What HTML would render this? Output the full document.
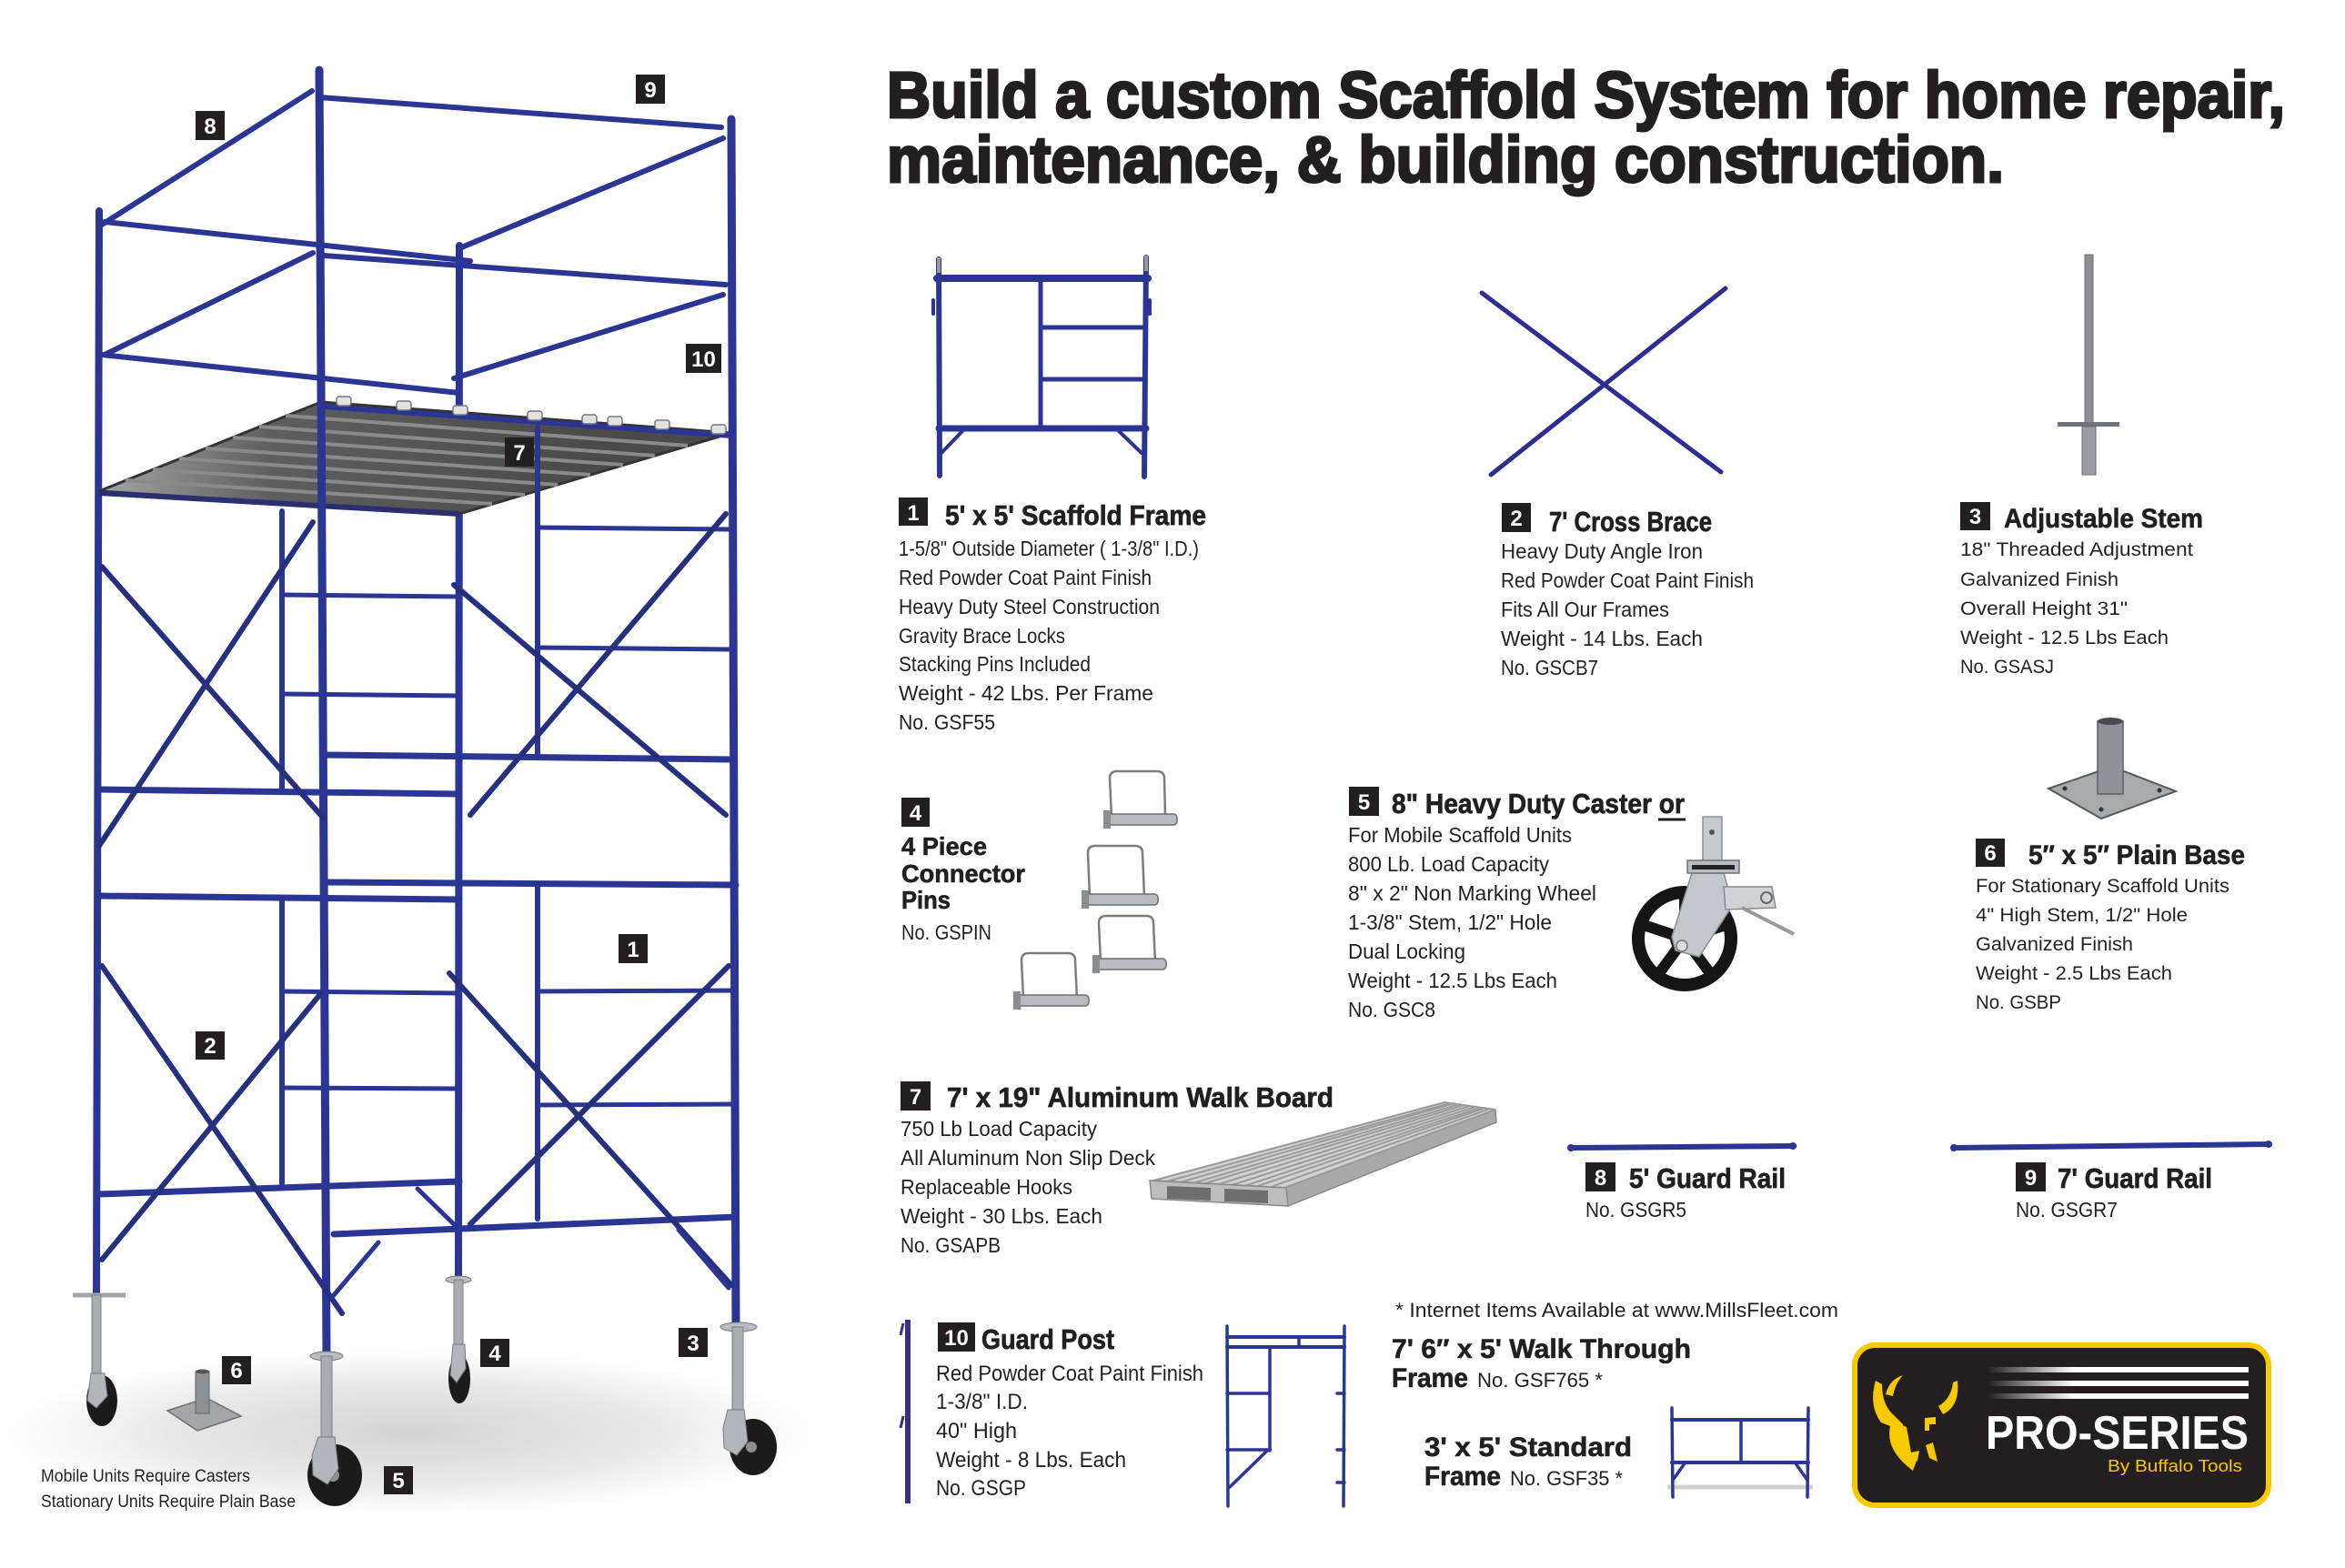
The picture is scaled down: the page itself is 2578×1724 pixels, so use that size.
<!DOCTYPE html>
<html><head><meta charset="utf-8">
<style>
html,body{margin:0;padding:0;background:#fff;}
svg{display:block;}
text{font-family:"Liberation Sans",sans-serif;fill:#231f20;}
.h{font-weight:bold;font-size:31px;stroke:#231f20;stroke-width:0.7px;}
.b{font-size:23px;}
.w{font-size:21px;}
.n{font-weight:bold;font-size:24px;fill:#fff;}
</style></head><body>
<svg width="2578" height="1724" viewBox="0 0 2578 1724" xmlns="http://www.w3.org/2000/svg">
<defs>
<radialGradient id="shd" cx="0.5" cy="0.5" r="0.5">
<stop offset="0" stop-color="#d4d4d4"/><stop offset="0.6" stop-color="#e8e8e8"/><stop offset="1" stop-color="#ffffff"/>
</radialGradient>
<linearGradient id="deckg" x1="109" y1="500" x2="650" y2="520" gradientUnits="userSpaceOnUse">
<stop offset="0" stop-color="#a5a5a5"/><stop offset="0.35" stop-color="#5e5e5e"/><stop offset="1" stop-color="#4a4a4a"/>
</linearGradient>
<linearGradient id="sg" x1="2185" y1="0" x2="2280" y2="0" gradientUnits="userSpaceOnUse">
<stop offset="0" stop-color="#231f20"/><stop offset="1" stop-color="#ffffff"/>
</linearGradient>
</defs>
<rect width="2578" height="1724" fill="#fff"/>

<!-- TITLE -->
<text x="975" y="129" font-size="71" font-weight="bold" textLength="1537" lengthAdjust="spacingAndGlyphs" stroke="#231f20" stroke-width="3">Build a custom Scaffold System for home repair,</text>
<text x="975" y="200" font-size="71" font-weight="bold" textLength="1228" lengthAdjust="spacingAndGlyphs" stroke="#231f20" stroke-width="3">maintenance, &amp; building construction.</text>

<!-- ============ TOWER ============ -->
<ellipse cx="450" cy="1575" rx="440" ry="90" fill="url(#shd)"/>

<g stroke="#2b3593" stroke-linecap="round" fill="none">
  <line x1="505" y1="270" x2="504" y2="1407" stroke-width="8"/>
  <line x1="109" y1="232" x2="106" y2="1424" stroke-width="8"/>
  <line x1="351" y1="107" x2="793" y2="140" stroke-width="6"/>
  <line x1="112" y1="247" x2="343" y2="100" stroke-width="6"/>
  <line x1="115" y1="244" x2="517" y2="287" stroke-width="6"/>
  <line x1="356" y1="281" x2="798" y2="313" stroke-width="6"/>
  <line x1="795" y1="152" x2="505" y2="273" stroke-width="6"/>
  <line x1="344" y1="278" x2="115" y2="390" stroke-width="6"/>
  <line x1="112" y1="390" x2="505" y2="432" stroke-width="6"/>
  <line x1="795" y1="324" x2="499" y2="416" stroke-width="6"/>
</g>

<!-- deck -->
<polygon points="109,540 353,442 804,476 505,565" fill="url(#deckg)" stroke="#333" stroke-width="3"/>
<g stroke="#8a8a8a" stroke-width="4">
  <line x1="138" y1="528" x2="541" y2="554"/>
  <line x1="168" y1="516" x2="577" y2="544"/>
  <line x1="197" y1="504" x2="613" y2="533"/>
  <line x1="226" y1="493" x2="649" y2="522"/>
  <line x1="256" y1="481" x2="685" y2="511"/>
  <line x1="285" y1="469" x2="720" y2="501"/>
  <line x1="314" y1="457" x2="756" y2="490"/>
</g>
<line x1="356" y1="447" x2="804" y2="479" stroke="#2b3593" stroke-width="6"/>
<g fill="#e2e2e2" stroke="#777" stroke-width="1.5">
  <rect x="370" y="436" width="16" height="10" rx="3"/>
  <rect x="436" y="441" width="16" height="10" rx="3"/>
  <rect x="498" y="446" width="16" height="10" rx="3"/>
  <rect x="580" y="452" width="16" height="10" rx="3"/>
  <rect x="640" y="456" width="16" height="10" rx="3"/>
  <rect x="668" y="458" width="16" height="10" rx="3"/>
  <rect x="720" y="462" width="16" height="10" rx="3"/>
  <rect x="782" y="467" width="16" height="10" rx="3"/>
</g>
<line x1="109" y1="542" x2="505" y2="565" stroke="#2a2f70" stroke-width="6"/>

<g stroke="#2b3593" stroke-linecap="round" fill="none">
  <line x1="351" y1="77" x2="359" y2="1491" stroke-width="9"/>
  <line x1="804" y1="131" x2="809" y2="1458" stroke-width="9"/>
  <line x1="310" y1="562" x2="310" y2="870" stroke-width="6"/>
  <line x1="310" y1="987" x2="310" y2="1301" stroke-width="6"/>
  <g stroke-width="5">
    <line x1="310" y1="654" x2="505" y2="656"/>
    <line x1="310" y1="763" x2="505" y2="765"/>
    <line x1="310" y1="1090" x2="505" y2="1092"/>
    <line x1="310" y1="1196" x2="505" y2="1197"/>
  </g>
  <line x1="109" y1="868" x2="505" y2="873" stroke-width="7"/>
  <line x1="109" y1="985" x2="505" y2="989" stroke-width="7"/>
  <line x1="109" y1="1313" x2="505" y2="1299" stroke-width="7"/>
  <line x1="591" y1="470" x2="591" y2="830" stroke-width="6"/>
  <line x1="591" y1="973" x2="591" y2="1340" stroke-width="6"/>
  <g stroke-width="5">
    <line x1="591" y1="580" x2="804" y2="582"/>
    <line x1="591" y1="712" x2="804" y2="714"/>
    <line x1="591" y1="1090" x2="809" y2="1089"/>
    <line x1="591" y1="1215" x2="809" y2="1214"/>
  </g>
  <line x1="359" y1="830" x2="804" y2="835" stroke-width="7"/>
  <line x1="359" y1="970" x2="809" y2="973" stroke-width="7"/>
  <line x1="367" y1="1357" x2="809" y2="1338" stroke-width="7"/>
  <g stroke-width="6" stroke="#26307f">
    <line x1="112" y1="623" x2="356" y2="900"/>
    <line x1="344" y1="574" x2="109" y2="930"/>
    <line x1="499" y1="643" x2="798" y2="896"/>
    <line x1="798" y1="565" x2="517" y2="896"/>
    <line x1="112" y1="1062" x2="376" y2="1444"/>
    <line x1="353" y1="1092" x2="112" y2="1385"/>
    <line x1="494" y1="1070" x2="804" y2="1413"/>
    <line x1="801" y1="1062" x2="517" y2="1346"/>
  </g>
  <g stroke-width="5">
    <line x1="367" y1="1424" x2="416" y2="1366"/>
    <line x1="746" y1="1352" x2="801" y2="1416"/>
    <line x1="459" y1="1307" x2="499" y2="1346"/>
  </g>
</g>

<!-- tower casters -->
<g>
  <line x1="80" y1="1424" x2="138" y2="1424" stroke="#a3a6aa" stroke-width="5"/>
  <rect x="101" y="1424" width="10" height="90" fill="#a9acb0" stroke="#7d8084" stroke-width="1"/>
  <ellipse cx="112" cy="1540" rx="17" ry="28" fill="#1b1b1b"/>
  <polygon points="100,1510 115,1510 118,1535 106,1548 96,1540" fill="#b3b6ba" stroke="#75787c" stroke-width="1"/>
  <ellipse cx="504" cy="1407" rx="14" ry="4" fill="#b9bcc0" stroke="#777" stroke-width="1"/>
  <rect x="499" y="1407" width="10" height="75" fill="#a9acb0" stroke="#7d8084" stroke-width="1"/>
  <ellipse cx="505" cy="1516" rx="12" ry="27" fill="#1b1b1b"/>
  <polygon points="498,1478 511,1478 512,1505 502,1520 495,1512" fill="#b3b6ba" stroke="#75787c" stroke-width="1"/>
  <ellipse cx="359" cy="1491" rx="18" ry="5" fill="#b9bcc0" stroke="#777" stroke-width="1"/>
  <rect x="353" y="1491" width="12" height="95" fill="#a9acb0" stroke="#7d8084" stroke-width="1"/>
  <ellipse cx="368" cy="1622" rx="30" ry="34" fill="#1b1b1b"/>
  <circle cx="366" cy="1622" r="7" fill="#8d8f92"/>
  <polygon points="350,1580 368,1580 372,1615 360,1632 344,1622 343,1600" fill="#b3b6ba" stroke="#75787c" stroke-width="1"/>
  <ellipse cx="812" cy="1459" rx="20" ry="5" fill="#b9bcc0" stroke="#777" stroke-width="1"/>
  <rect x="805" y="1459" width="12" height="100" fill="#a9acb0" stroke="#7d8084" stroke-width="1"/>
  <ellipse cx="828" cy="1591" rx="26" ry="31" fill="#1b1b1b"/>
  <circle cx="826" cy="1591" r="6" fill="#8d8f92"/>
  <polygon points="800,1550 818,1550 822,1585 810,1600 796,1592 795,1570" fill="#b3b6ba" stroke="#75787c" stroke-width="1"/>
  <polygon points="184,1551 227,1537 265,1557 217,1573" fill="#a4a7aa" stroke="#6d6f72" stroke-width="1.5"/>
  <rect x="215" y="1508" width="15" height="46" fill="#8d9094" stroke="#5f6266" stroke-width="1"/>
  <ellipse cx="222.5" cy="1508" rx="7.5" ry="2.5" fill="#555"/>
</g>

<!-- tower badges -->
<g fill="#231f20">
  <rect x="215" y="122" width="32" height="32"/>
  <rect x="699" y="82" width="32" height="32"/>
  <rect x="754" y="378" width="39" height="32"/>
  <rect x="555" y="481" width="32" height="32"/>
  <rect x="680" y="1027" width="32" height="32"/>
  <rect x="215" y="1134" width="32" height="31"/>
  <rect x="244" y="1491" width="32" height="31"/>
  <rect x="528" y="1472" width="32" height="31"/>
  <rect x="746" y="1460" width="32" height="32"/>
  <rect x="422" y="1612" width="32" height="31"/>
</g>
<g>
  <text class="n" x="231" y="147" text-anchor="middle">8</text>
  <text class="n" x="715" y="107" text-anchor="middle">9</text>
  <text class="n" x="773.5" y="403" text-anchor="middle">10</text>
  <text class="n" x="571" y="506" text-anchor="middle">7</text>
  <text class="n" x="696" y="1052" text-anchor="middle">1</text>
  <text class="n" x="231" y="1158" text-anchor="middle">2</text>
  <text class="n" x="260" y="1515" text-anchor="middle">6</text>
  <text class="n" x="544" y="1496" text-anchor="middle">4</text>
  <text class="n" x="762" y="1485" text-anchor="middle">3</text>
  <text class="n" x="438" y="1636" text-anchor="middle">5</text>
</g>
<text x="45" y="1629" font-size="19" textLength="230" lengthAdjust="spacingAndGlyphs">Mobile Units Require Casters</text>
<text x="45" y="1657" font-size="19" textLength="280" lengthAdjust="spacingAndGlyphs">Stationary Units Require Plain Base</text>

<!-- ============ SECTION 1: frame ============ -->
<g stroke="#2b3593" stroke-linecap="round" fill="none">
  <line x1="1032" y1="285" x2="1033" y2="523" stroke-width="6"/>
  <line x1="1260" y1="283" x2="1258" y2="524" stroke-width="6"/>
  <line x1="1030" y1="306" x2="1262" y2="306" stroke-width="8"/>
  <line x1="1144" y1="306" x2="1144" y2="470" stroke-width="5"/>
  <line x1="1144" y1="360" x2="1258" y2="360" stroke-width="5"/>
  <line x1="1144" y1="417" x2="1258" y2="417" stroke-width="5"/>
  <line x1="1032" y1="471" x2="1260" y2="471" stroke-width="7"/>
  <line x1="1058" y1="474" x2="1035" y2="498" stroke-width="4"/>
  <line x1="1230" y1="474" x2="1255" y2="498" stroke-width="4"/>
  <line x1="1026" y1="330" x2="1026" y2="345" stroke-width="4"/>
  <line x1="1264" y1="330" x2="1264" y2="345" stroke-width="4"/>
</g>
<line x1="1032" y1="283" x2="1032" y2="300" stroke="#999" stroke-width="4"/>
<line x1="1260" y1="281" x2="1260" y2="298" stroke="#999" stroke-width="4"/>
<rect x="988" y="547" width="32" height="31" fill="#231f20"/>
<text class="n" x="1004" y="572" text-anchor="middle">1</text>
<text class="h" x="1039" y="577" textLength="287" lengthAdjust="spacingAndGlyphs">5' x 5' Scaffold Frame</text>
<text class="b" x="988" y="611" textLength="330" lengthAdjust="spacingAndGlyphs">1-5/8" Outside Diameter ( 1-3/8" I.D.)</text>
<text class="b" x="988" y="643" textLength="278" lengthAdjust="spacingAndGlyphs">Red Powder Coat Paint Finish</text>
<text class="b" x="988" y="675" textLength="287" lengthAdjust="spacingAndGlyphs">Heavy Duty Steel Construction</text>
<text class="b" x="988" y="707" textLength="183" lengthAdjust="spacingAndGlyphs">Gravity Brace Locks</text>
<text class="b" x="988" y="738" textLength="211" lengthAdjust="spacingAndGlyphs">Stacking Pins Included</text>
<text class="b" x="988" y="770" textLength="280" lengthAdjust="spacingAndGlyphs">Weight  - 42 Lbs. Per  Frame</text>
<text class="b" x="988" y="802" textLength="106" lengthAdjust="spacingAndGlyphs">No. GSF55</text>

<!-- ============ SECTION 2: cross brace ============ -->
<g stroke="#2e2e90" stroke-width="5" stroke-linecap="round">
  <line x1="1629" y1="322" x2="1892" y2="519"/>
  <line x1="1639" y1="522" x2="1897" y2="317"/>
</g>
<rect x="1651" y="553" width="32" height="32" fill="#231f20"/>
<text class="n" x="1667" y="578" text-anchor="middle">2</text>
<text class="h" x="1703" y="584" textLength="179" lengthAdjust="spacingAndGlyphs">7' Cross Brace</text>
<text class="b" x="1650" y="614" textLength="222" lengthAdjust="spacingAndGlyphs">Heavy Duty Angle Iron</text>
<text class="b" x="1650" y="646" textLength="278" lengthAdjust="spacingAndGlyphs">Red Powder Coat Paint Finish</text>
<text class="b" x="1650" y="678" textLength="185" lengthAdjust="spacingAndGlyphs">Fits All Our Frames</text>
<text class="b" x="1650" y="710" textLength="222" lengthAdjust="spacingAndGlyphs">Weight  - 14 Lbs. Each</text>
<text class="b" x="1650" y="742" textLength="107" lengthAdjust="spacingAndGlyphs">No. GSCB7</text>

<!-- ============ SECTION 3: stem ============ -->
<rect x="2292" y="280" width="9" height="188" fill="#8c8f93" stroke="#6a6d71" stroke-width="1"/>
<rect x="2262" y="464" width="68" height="5" fill="#6f7276"/>
<rect x="2289" y="469" width="15" height="53" fill="#9a9da1" stroke="#6a6d71" stroke-width="1"/>
<rect x="2155" y="552" width="33" height="31" fill="#231f20"/>
<text class="n" x="2171.5" y="576" text-anchor="middle">3</text>
<text x="2203" y="580" font-size="30" font-weight="bold" stroke="#231f20" stroke-width="0.6" textLength="219" lengthAdjust="spacingAndGlyphs">Adjustable Stem</text>
<text class="w" x="2155" y="611" textLength="256" lengthAdjust="spacingAndGlyphs">18" Threaded Adjustment</text>
<text class="w" x="2155" y="644" textLength="174" lengthAdjust="spacingAndGlyphs">Galvanized Finish</text>
<text class="w" x="2155" y="676" textLength="184" lengthAdjust="spacingAndGlyphs">Overall Height 31"</text>
<text class="w" x="2155" y="708" textLength="229" lengthAdjust="spacingAndGlyphs">Weight - 12.5 Lbs Each</text>
<text class="w" x="2155" y="740" textLength="103" lengthAdjust="spacingAndGlyphs">No. GSASJ</text>

<!-- ============ SECTION 4: pins ============ -->
<g fill="none" stroke="#7a7d80" stroke-width="2.5">
  <path d="M1222,899 L1220,856 Q1220,848 1228,848 L1272,848 Q1280,848 1280,856 L1281,899"/>
  <path d="M1198,987 L1196,938 Q1196,930 1204,930 L1248,930 Q1256,930 1256,938 L1258,987"/>
  <path d="M1210,1058 L1208,1015 Q1208,1007 1216,1007 L1260,1007 Q1268,1007 1268,1015 L1270,1058"/>
  <path d="M1125,1098 L1123,1056 Q1123,1048 1131,1048 L1174,1048 Q1182,1048 1182,1056 L1184,1098"/>
</g>
<g fill="#b8bbbf" stroke="#6b6e72" stroke-width="1.5">
  <rect x="1215" y="895" width="79" height="12" rx="4"/>
  <rect x="1191" y="983" width="82" height="12" rx="4"/>
  <rect x="1203" y="1054" width="79" height="12" rx="4"/>
  <rect x="1116" y="1094" width="81" height="12" rx="4"/>
</g>
<g fill="#8a8d91">
  <rect x="1213" y="891" width="8" height="20"/>
  <rect x="1189" y="979" width="8" height="20"/>
  <rect x="1201" y="1050" width="8" height="20"/>
  <rect x="1114" y="1090" width="8" height="20"/>
</g>
<rect x="991" y="877" width="31" height="32" fill="#231f20"/>
<text class="n" x="1006.5" y="902" text-anchor="middle">4</text>
<text x="991" y="940" font-size="28" font-weight="bold" stroke="#231f20" stroke-width="0.6" textLength="94" lengthAdjust="spacingAndGlyphs">4 Piece</text>
<text x="991" y="970" font-size="28" font-weight="bold" stroke="#231f20" stroke-width="0.6" textLength="136" lengthAdjust="spacingAndGlyphs">Connector</text>
<text x="991" y="999" font-size="28" font-weight="bold" stroke="#231f20" stroke-width="0.6" textLength="54" lengthAdjust="spacingAndGlyphs">Pins</text>
<text class="b" x="991" y="1033" textLength="99" lengthAdjust="spacingAndGlyphs">No. GSPIN</text>

<!-- ============ SECTION 5: caster ============ -->
<rect x="1483" y="865" width="33" height="32" fill="#231f20"/>
<text class="n" x="1499.5" y="890" text-anchor="middle">5</text>
<text class="h" x="1530" y="894" textLength="322" lengthAdjust="spacingAndGlyphs">8" Heavy Duty Caster or</text>
<line x1="1823" y1="901" x2="1853" y2="901" stroke="#231f20" stroke-width="3"/>
<text class="b" x="1482" y="926" textLength="246" lengthAdjust="spacingAndGlyphs">For Mobile Scaffold Units</text>
<text class="b" x="1482" y="958" textLength="221" lengthAdjust="spacingAndGlyphs">800 Lb. Load Capacity</text>
<text class="b" x="1482" y="990" textLength="273" lengthAdjust="spacingAndGlyphs">8" x 2" Non Marking Wheel</text>
<text class="b" x="1482" y="1022" textLength="224" lengthAdjust="spacingAndGlyphs">1-3/8" Stem, 1/2" Hole</text>
<text class="b" x="1482" y="1054" textLength="129" lengthAdjust="spacingAndGlyphs">Dual Locking</text>
<text class="b" x="1482" y="1086" textLength="230" lengthAdjust="spacingAndGlyphs">Weight - 12.5 Lbs Each</text>
<text class="b" x="1482" y="1118" textLength="96" lengthAdjust="spacingAndGlyphs">No. GSC8</text>
<g>
  <rect x="1872" y="898" width="21" height="52" fill="#c7cacd" stroke="#8d9196" stroke-width="1.5"/>
  <circle cx="1882" cy="915" r="3" fill="#555"/>
  <circle cx="1852" cy="1032" r="51" fill="none" stroke="#151515" stroke-width="14"/>
  <g stroke="#151515" stroke-width="12">
    <line x1="1852" y1="1032" x2="1852" y2="985"/>
    <line x1="1852" y1="1032" x2="1897" y2="1017"/>
    <line x1="1852" y1="1032" x2="1880" y2="1070"/>
    <line x1="1852" y1="1032" x2="1824" y2="1070"/>
    <line x1="1852" y1="1032" x2="1807" y2="1017"/>
  </g>
  <circle cx="1852" cy="1032" r="16" fill="#151515"/>
  <polygon points="1860,960 1895,960 1905,995 1868,1052 1842,1045 1838,1030" fill="#c4c7cb" stroke="#8a8e93" stroke-width="1.5"/>
  <circle cx="1849" cy="1040" r="6" fill="#ddd" stroke="#777" stroke-width="1.5"/>
  <rect x="1855" y="946" width="57" height="14" fill="#b9bcc0" stroke="#6f7377" stroke-width="1.5"/>
  <rect x="1860" y="951" width="47" height="5" fill="#222"/>
  <polygon points="1895,975 1948,975 1952,998 1897,1000" fill="#d0d3d6" stroke="#888" stroke-width="1.5"/>
  <circle cx="1942" cy="987" r="6" fill="none" stroke="#666" stroke-width="2"/>
  <line x1="1915" y1="998" x2="1972" y2="1027" stroke="#999" stroke-width="4"/>
</g>

<!-- ============ SECTION 6: plain base ============ -->
<polygon points="2252,867 2322,843 2392,870 2310,900" fill="#a8abae" stroke="#55585b" stroke-width="2"/>
<g fill="#333"><circle cx="2270" cy="867" r="2.5"/><circle cx="2322" cy="851" r="2.5"/><circle cx="2374" cy="869" r="2.5"/><circle cx="2310" cy="890" r="2.5"/></g>
<rect x="2306" y="793" width="28" height="80" fill="#8f9296" stroke="#5d6064" stroke-width="1.5"/>
<ellipse cx="2320" cy="793" rx="14" ry="4" fill="#4a4d50"/>
<rect x="2172" y="922" width="32" height="31" fill="#231f20"/>
<text class="n" x="2188" y="946" text-anchor="middle">6</text>
<text x="2230" y="950" font-size="30" font-weight="bold" stroke="#231f20" stroke-width="0.6" textLength="238" lengthAdjust="spacingAndGlyphs">5″ x 5″ Plain Base</text>
<text class="w" x="2172" y="981" textLength="279" lengthAdjust="spacingAndGlyphs">For Stationary Scaffold Units</text>
<text class="w" x="2172" y="1013" textLength="233" lengthAdjust="spacingAndGlyphs">4" High Stem, 1/2" Hole</text>
<text class="w" x="2172" y="1045" textLength="173" lengthAdjust="spacingAndGlyphs">Galvanized Finish</text>
<text class="w" x="2172" y="1077" textLength="216" lengthAdjust="spacingAndGlyphs">Weight - 2.5 Lbs Each</text>
<text class="w" x="2172" y="1109" textLength="94" lengthAdjust="spacingAndGlyphs">No. GSBP</text>

<!-- ============ SECTION 7: walk board ============ -->
<rect x="990" y="1189" width="33" height="32" fill="#231f20"/>
<text class="n" x="1006.5" y="1214" text-anchor="middle">7</text>
<text class="h" x="1041" y="1217" textLength="425" lengthAdjust="spacingAndGlyphs">7' x 19" Aluminum Walk Board</text>
<text class="b" x="990" y="1249" textLength="216" lengthAdjust="spacingAndGlyphs">750 Lb Load Capacity</text>
<text class="b" x="990" y="1281" textLength="280" lengthAdjust="spacingAndGlyphs">All Aluminum Non Slip Deck</text>
<text class="b" x="990" y="1313" textLength="189" lengthAdjust="spacingAndGlyphs">Replaceable Hooks</text>
<text class="b" x="990" y="1345" textLength="222" lengthAdjust="spacingAndGlyphs">Weight  - 30 Lbs. Each</text>
<text class="b" x="990" y="1377" textLength="110" lengthAdjust="spacingAndGlyphs">No. GSAPB</text>
<polygon points="1412,1306 1644,1220 1645,1234 1416,1326" fill="#a9a9a9" stroke="#888" stroke-width="1.5"/>
<polygon points="1268,1298 1412,1306 1644,1220 1588,1212" fill="#d2d2d2" stroke="#9a9a9a" stroke-width="2"/>
<g stroke="#9b9b9b" stroke-width="2">
  <line x1="1283" y1="1299" x2="1594" y2="1213"/>
  <line x1="1297" y1="1300" x2="1599" y2="1213"/>
  <line x1="1311" y1="1301" x2="1605" y2="1214"/>
  <line x1="1325" y1="1301" x2="1610" y2="1215"/>
  <line x1="1340" y1="1302" x2="1616" y2="1216"/>
  <line x1="1354" y1="1303" x2="1622" y2="1217"/>
  <line x1="1368" y1="1304" x2="1627" y2="1218"/>
  <line x1="1383" y1="1304" x2="1633" y2="1218"/>
  <line x1="1397" y1="1305" x2="1638" y2="1219"/>
</g>
<polygon points="1264,1298 1414,1306 1416,1326 1266,1318" fill="#bdbdbd" stroke="#8a8a8a" stroke-width="1.5"/>
<polygon points="1283,1304 1331,1306 1331,1320 1283,1318" fill="#6e6e6e"/>
<polygon points="1346,1307 1394,1309 1394,1323 1346,1321" fill="#6e6e6e"/>

<!-- ============ SECTION 8 / 9: guard rails ============ -->
<line x1="1726" y1="1262" x2="1972" y2="1260" stroke="#2b3593" stroke-width="6" stroke-linecap="round"/>
<circle cx="1727" cy="1262" r="4" fill="#2b3593"/><circle cx="1971" cy="1260" r="4" fill="#2b3593"/>
<rect x="1743" y="1278" width="33" height="32" fill="#231f20"/>
<text class="n" x="1759.5" y="1303" text-anchor="middle">8</text>
<text class="h" x="1791" y="1306" textLength="172" lengthAdjust="spacingAndGlyphs">5' Guard Rail</text>
<text class="b" x="1743" y="1338" textLength="111" lengthAdjust="spacingAndGlyphs">No. GSGR5</text>

<line x1="2147" y1="1262" x2="2495" y2="1258" stroke="#2b3593" stroke-width="6" stroke-linecap="round"/>
<circle cx="2148" cy="1262" r="4" fill="#2b3593"/><circle cx="2494" cy="1258" r="4" fill="#2b3593"/>
<rect x="2216" y="1278" width="33" height="32" fill="#231f20"/>
<text class="n" x="2232.5" y="1303" text-anchor="middle">9</text>
<text class="h" x="2262" y="1306" textLength="170" lengthAdjust="spacingAndGlyphs">7' Guard Rail</text>
<text class="b" x="2216" y="1338" textLength="112" lengthAdjust="spacingAndGlyphs">No. GSGR7</text>

<!-- ============ BOTTOM ============ -->
<text x="1534" y="1448" font-size="22" textLength="487" lengthAdjust="spacingAndGlyphs">* Internet Items Available at www.MillsFleet.com</text>

<line x1="998" y1="1451" x2="998" y2="1653" stroke="#3a2f8f" stroke-width="6"/>
<path d="M993,1455 L990,1468 M993,1557 L990,1570" stroke="#3a2f8f" stroke-width="3" fill="none"/>
<rect x="1031" y="1454" width="41" height="32" fill="#231f20"/>
<text class="n" x="1051.5" y="1479" text-anchor="middle">10</text>
<text class="h" x="1079" y="1483" textLength="146" lengthAdjust="spacingAndGlyphs">Guard Post</text>
<text x="1029" y="1518" font-size="24" textLength="294" lengthAdjust="spacingAndGlyphs">Red Powder Coat Paint Finish</text>
<text x="1029" y="1549" font-size="24" textLength="101" lengthAdjust="spacingAndGlyphs">1-3/8" I.D.</text>
<text x="1029" y="1581" font-size="24" textLength="89" lengthAdjust="spacingAndGlyphs">40" High</text>
<text x="1029" y="1613" font-size="24" textLength="209" lengthAdjust="spacingAndGlyphs">Weight  - 8 Lbs. Each</text>
<text x="1029" y="1644" font-size="24" textLength="99" lengthAdjust="spacingAndGlyphs">No. GSGP</text>

<g stroke="#2b3593" stroke-linecap="round" fill="none" stroke-width="3.5">
  <line x1="1349" y1="1458" x2="1350" y2="1656"/>
  <line x1="1478" y1="1458" x2="1477" y2="1656"/>
  <line x1="1349" y1="1470" x2="1478" y2="1470" stroke-width="4"/>
  <line x1="1349" y1="1481" x2="1478" y2="1481" stroke-width="4"/>
  <line x1="1428" y1="1470" x2="1428" y2="1481"/>
  <line x1="1396" y1="1481" x2="1396" y2="1595"/>
  <line x1="1349" y1="1532" x2="1396" y2="1532"/>
  <line x1="1349" y1="1594" x2="1396" y2="1594"/>
  <line x1="1393" y1="1595" x2="1352" y2="1635"/>
  <line x1="1470" y1="1532" x2="1478" y2="1532"/>
  <line x1="1470" y1="1594" x2="1478" y2="1594"/>
  <line x1="1470" y1="1630" x2="1478" y2="1630"/>
</g>
<text x="1530" y="1493" font-size="30" font-weight="bold" stroke="#231f20" stroke-width="0.6" textLength="329" lengthAdjust="spacingAndGlyphs">7' 6″ x 5' Walk Through</text>
<text x="1530" y="1525" font-size="30" font-weight="bold" stroke="#231f20" stroke-width="0.6" textLength="84" lengthAdjust="spacingAndGlyphs">Frame</text>
<text x="1624" y="1525" font-size="22" textLength="138" lengthAdjust="spacingAndGlyphs">No. GSF765 *</text>
<text x="1566" y="1601" font-size="30" font-weight="bold" stroke="#231f20" stroke-width="0.6" textLength="228" lengthAdjust="spacingAndGlyphs">3'  x 5' Standard</text>
<text x="1566" y="1633" font-size="30" font-weight="bold" stroke="#231f20" stroke-width="0.6" textLength="84" lengthAdjust="spacingAndGlyphs">Frame</text>
<text x="1660" y="1633" font-size="22" textLength="124" lengthAdjust="spacingAndGlyphs">No. GSF35 *</text>

<line x1="1833" y1="1635" x2="1993" y2="1635" stroke="#d0d0d0" stroke-width="5"/>
<g stroke="#2b3593" stroke-linecap="round" fill="none" stroke-width="3.5">
  <line x1="1838" y1="1548" x2="1839" y2="1646"/>
  <line x1="1988" y1="1548" x2="1987" y2="1646"/>
  <line x1="1838" y1="1561" x2="1988" y2="1561" stroke-width="4"/>
  <line x1="1914" y1="1561" x2="1914" y2="1608"/>
  <line x1="1838" y1="1608" x2="1988" y2="1608" stroke-width="4"/>
  <line x1="1840" y1="1626" x2="1852" y2="1609"/>
  <line x1="1986" y1="1626" x2="1974" y2="1609"/>
</g>

<!-- logo -->
<rect x="2039" y="1479" width="455" height="176" rx="22" fill="#231f20" stroke="#f9c900" stroke-width="6"/>
<rect x="2185" y="1503" width="287" height="6" fill="url(#sg)"/>
<rect x="2185" y="1518" width="287" height="6" fill="url(#sg)"/>
<rect x="2185" y="1532" width="287" height="6" fill="url(#sg)"/>
<text x="2183" y="1593" font-size="52" font-weight="bold" style="fill:#ffffff" textLength="289" lengthAdjust="spacingAndGlyphs">PRO-SERIES</text>
<text x="2317" y="1618" font-size="18" style="fill:#f9c900" textLength="148" lengthAdjust="spacingAndGlyphs">By Buffalo Tools</text>
<g fill="#f9c900">
  <path d="M2062,1518 Q2054,1545 2068,1564 L2078,1568 Q2072,1594 2103,1617 L2107,1606 Q2090,1588 2092,1566 L2082,1556 Q2069,1545 2069,1522 Z"/>
  <path d="M2073,1533 Q2077,1517 2092,1512 Q2083,1522 2081,1535 Z"/>
  <path d="M2152,1518 Q2155,1546 2136,1555 L2131,1546 Q2145,1538 2147,1520 Z"/>
  <path d="M2084,1564 L2096,1569 L2101,1597 L2110,1595 L2108,1606 L2097,1609 L2090,1578 Z"/>
  <path d="M2116,1559 L2128,1558 L2128,1566 L2121,1566 L2121,1573 L2116,1573 Z"/>
  <path d="M2117,1589 L2125,1586 L2130,1607 L2121,1603 Z"/>
</g>
</svg>
</body></html>
